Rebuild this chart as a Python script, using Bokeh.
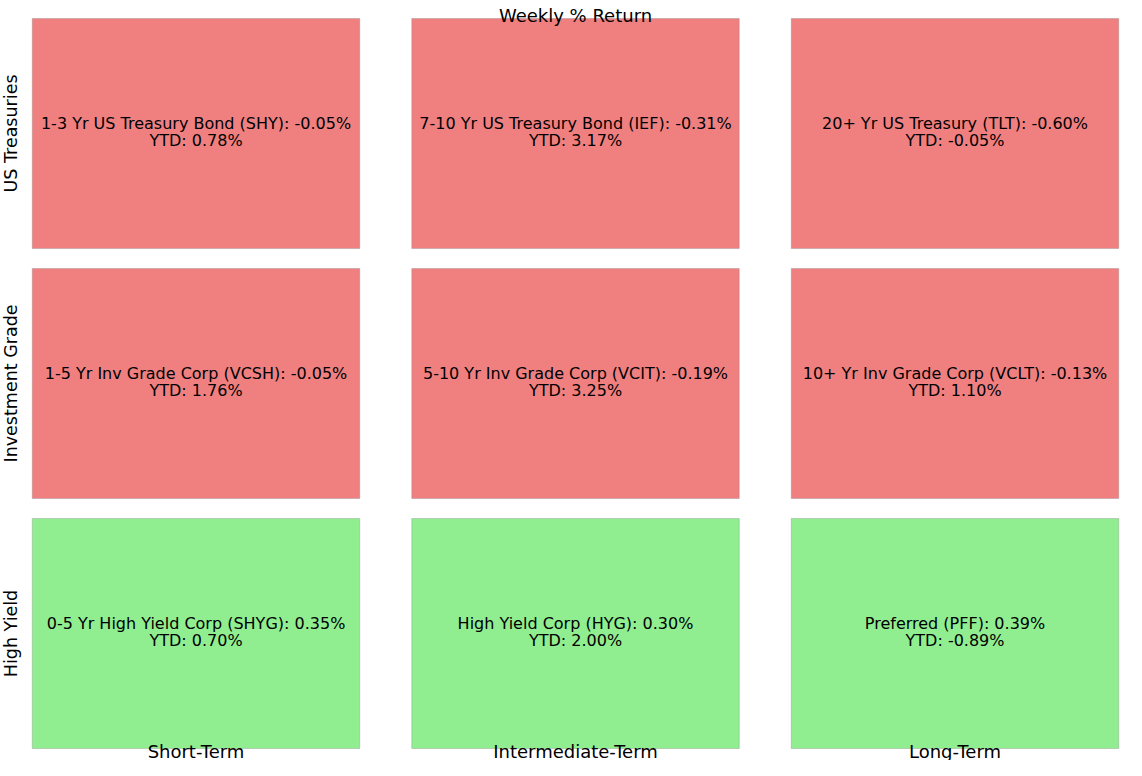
from bokeh.plotting import figure
from bokeh.models import Range1d, ColumnDataSource
from bokeh.core.properties import value
from bokeh.embed import file_html
from bokeh.resources import INLINE
import math

title_text = "Weekly % Return"
row_labels = ["US Treasuries", "Investment Grade", "High Yield"]
col_labels = ["Short-Term", "Intermediate-Term", "Long-Term"]
names = [
    "1-3 Yr US Treasury Bond (SHY)", "7-10 Yr US Treasury Bond (IEF)", "20+ Yr US Treasury (TLT)",
    "1-5 Yr Inv Grade Corp (VCSH)", "5-10 Yr Inv Grade Corp (VCIT)", "10+ Yr Inv Grade Corp (VCLT)",
    "0-5 Yr High Yield Corp (SHYG)", "High Yield Corp (HYG)", "Preferred (PFF)",
]
weekly = [-0.05, -0.31, -0.60, -0.05, -0.19, -0.13, 0.35, 0.30, 0.39]
ytd = [0.78, 3.17, -0.05, 1.76, 3.25, 1.10, 0.70, 2.00, -0.89]

FONT = value("DejaVu Sans")

cols = [i % 3 for i in range(len(names))]
rows = [i // 3 for i in range(len(names))]
colors = ["#F08080" if w < 0 else "#90EE90" for w in weekly]
line1 = [f"{n}: {w:.2f}%" for n, w in zip(names, weekly)]
line2 = [f"YTD: {y:.2f}%" for y in ytd]

src = ColumnDataSource(dict(x=cols, y=rows, color=colors, l1=line1, l2=line2))

W, H = 1126, 760
X0, X1 = -0.5152, 2.4519
Y0, Y1 = 2.508, -0.532
p = figure(width=W, height=H, output_backend="svg", toolbar_location=None,
           x_range=Range1d(X0, X1), y_range=Range1d(Y0, Y1),
           min_border=0, min_border_left=0, min_border_right=0,
           min_border_top=0, min_border_bottom=0)
p.axis.visible = False
p.grid.visible = False
p.outline_line_color = None
p.background_fill_color = "white"

p.rect(x="x", y="y", width=0.863, height=0.92, source=src, fill_color="color",
       line_color="#888888", line_alpha=0.35, line_width=1)

p.text(x="x", y="y", text="l1", source=src, text_align="center", text_baseline="middle",
       text_font=FONT, text_font_size="16px", text_color="black", y_offset=-10)
p.text(x="x", y="y", text="l2", source=src, text_align="center", text_baseline="middle",
       text_font=FONT, text_font_size="16px", text_color="black", y_offset=7)

# row labels (rotated)
p.text(x=[X0] * 3, y=list(range(3)), text=row_labels, angle=math.pi / 2,
       text_align="center", text_baseline="middle", text_font=FONT,
       text_font_size="17.5px", text_color="black", x_offset=10)

# column labels
p.text(x=list(range(3)), y=[Y0] * 3, text=col_labels, text_align="center",
       text_baseline="bottom", text_font=FONT, text_font_size="18px",
       text_color="black", y_offset=1)

# title
p.text(x=[1.0], y=[-0.472], text=[title_text], text_align="center", text_baseline="alphabetic",
       text_font=FONT, text_font_size="18px", text_color="black")

open("out.html", "w").write(file_html(p, INLINE))
